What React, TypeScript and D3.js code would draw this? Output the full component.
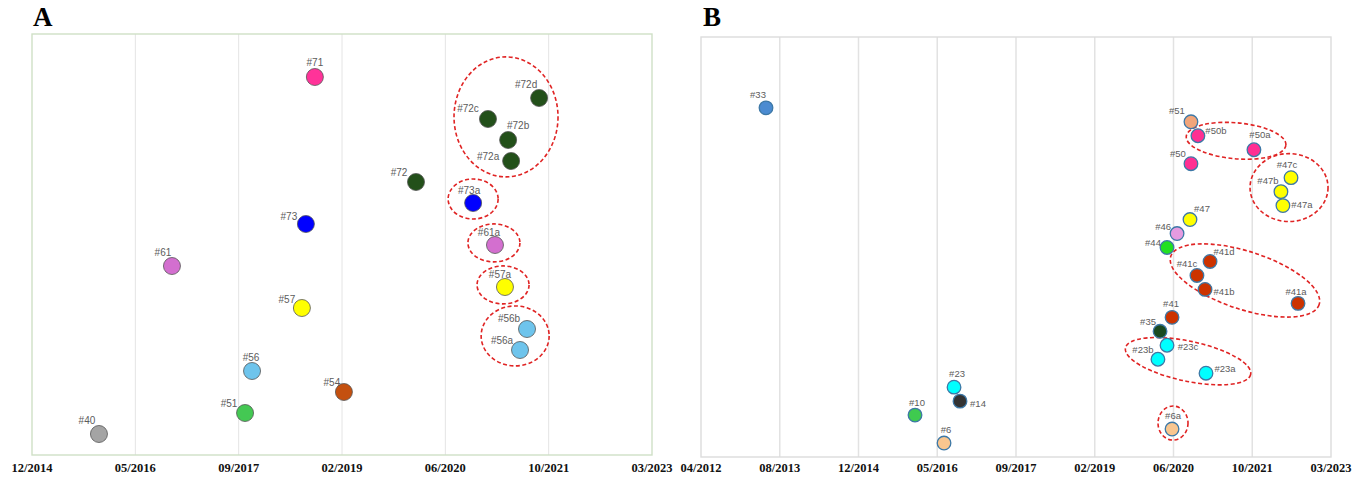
import React from "react";
import * as d3 from "d3";

// ---------- data ----------
const tickLabelsA = ["12/2014", "05/2016", "09/2017", "02/2019", "06/2020", "10/2021", "03/2023"];
const tickLabelsB = ["04/2012", "08/2013", "12/2014", "05/2016", "09/2017", "02/2019", "06/2020", "10/2021", "03/2023"];

// Panel A points, ordered bottom to top (vertical rank = index)
const idsA = ["#40", "#51", "#54", "#56", "#56a", "#56b", "#57", "#57a", "#61", "#61a", "#73", "#73a", "#72", "#72a", "#72b", "#72c", "#72d", "#71"];
const datesA = ["2015-11-01", "2017-10-03", "2019-02-10", "2017-11-07", "2021-05-19", "2021-06-21", "2018-07-15", "2021-03-09", "2016-10-21", "2021-01-21", "2018-08-04", "2020-10-10", "2020-01-15", "2021-04-07", "2021-03-24", "2020-12-19", "2021-08-17", "2018-09-18"];
const colorsA = ["#a4a4a4", "#44c853", "#c4500f", "#6ec4ec", "#6ec4ec", "#6ec4ec", "#ffff00", "#ffff00", "#d36fcf", "#d36fcf", "#0000ff", "#0000ff", "#23501a", "#23501a", "#23501a", "#23501a", "#23501a", "#ff3399"];

// Panel B points, ordered bottom to top
const idsB = ["#6", "#6a", "#10", "#14", "#23", "#23a", "#23b", "#23c", "#35", "#41", "#41a", "#41b", "#41c", "#41d", "#44", "#46", "#47", "#47a", "#47b", "#47c", "#50", "#50a", "#50b", "#51", "#33"];
const datesB = ["2016-06-12", "2020-05-23", "2015-12-07", "2016-09-19", "2016-08-13", "2020-12-19", "2020-02-26", "2020-04-22", "2020-03-10", "2020-05-23", "2022-07-28", "2020-12-13", "2020-10-24", "2021-01-13", "2020-04-22", "2020-06-23", "2020-09-11", "2022-04-20", "2022-04-07", "2022-06-12", "2020-09-17", "2021-10-12", "2020-10-30", "2020-09-17", "2013-05-08"];
const colorsB = ["#f9c68f", "#f9c68f", "#3fca4f", "#333333", "#00ffff", "#00ffff", "#00ffff", "#00ffff", "#1a4a20", "#cc3300", "#cc3300", "#cc3300", "#cc3300", "#cc3300", "#22e022", "#e59be0", "#ffff00", "#ffff00", "#ffff00", "#ffff00", "#ff2f92", "#ff2f92", "#ff2f92", "#f2a57a", "#4b8bd1"];

// label placement (offset of label centre from point centre)
const labelOffA: Record<string, [number, number]> = {
  "#40": [-12, -14], "#51": [-16, -10], "#54": [-12, -10], "#56": [-1, -14], "#56a": [-18, -10], "#56b": [-18, -11],
  "#57": [-15, -9], "#57a": [-5, -13], "#61": [-9, -14], "#61a": [-6, -13], "#73": [-17, -8], "#73a": [-4, -13],
  "#72": [-17, -10], "#72a": [-23, -5], "#72b": [10, -15], "#72c": [-20, -11], "#72d": [-13, -14], "#71": [0, -15],
};
const labelOffB: Record<string, [number, number]> = {
  "#6": [2, -14], "#6a": [1, -14], "#10": [2, -13], "#14": [18, 2], "#23": [3, -14], "#23a": [19, -5], "#23b": [-15, -10],
  "#23c": [21, 1], "#35": [-12, -10], "#41": [-1, -14], "#41a": [-2, -12], "#41b": [19, 2], "#41c": [-10, -12],
  "#41d": [14, -10], "#44": [-14, -5], "#46": [-14, -7], "#47": [12, -11], "#47a": [19, -1], "#47b": [-13, -11],
  "#47c": [-4, -13], "#50": [-13, -10], "#50a": [6, -15], "#50b": [18, -5], "#51": [-14, -11], "#33": [-8, -13],
};

// dashed group annotations: centre (date, rank), semi-axes px, rotation deg
const ellipsesA = [
  { date: "2021-03-14", level: 15.1, rx: 52, ry: 60, rot: 0 },
  { date: "2020-10-10", level: 11.19, rx: 25, ry: 20, rot: 0 },
  { date: "2021-01-16", level: 9.1, rx: 26, ry: 19, rot: 0 },
  { date: "2021-02-28", level: 7.1, rx: 26, ry: 19, rot: 0 },
  { date: "2021-04-26", level: 4.67, rx: 34, ry: 30, rot: 0 },
];
const ellipsesB = [
  { date: "2021-06-23", level: 21.64, rx: 50, ry: 18, rot: 5 },
  { date: "2022-05-30", level: 18.29, rx: 39, ry: 34, rot: 0 },
  { date: "2021-08-17", level: 11.64, rx: 78, ry: 29, rot: 18 },
  { date: "2020-08-30", level: 5.86, rx: 64, ry: 20, rot: 12 },
  { date: "2020-05-29", level: 1.43, rx: 15, ry: 17, rot: 0 },
];

// ---------- helpers ----------
const parseDay = d3.timeParse("%Y-%m-%d");
const parseTick = d3.timeParse("%m/%Y");

type PanelProps = {
  letter: string;
  left: number; right: number; top: number; bottom: number;
  ticks: string[];
  ids: string[]; dates: string[]; colors: string[];
  offs: Record<string, [number, number]>;
  ellipses: { date: string; level: number; rx: number; ry: number; rot: number }[];
  yMax: number;
  r: number;
  frame: string;
  grid: string;
  gridW: number;
  pointStroke: string;
  pointStrokeW: number;
  labelSize: number;
  reverseDraw: boolean;
  letterX: number;
};

function Panel(p: PanelProps) {
  const tickDates = p.ticks.map((t) => parseTick(t) as Date);
  const n = tickDates.length - 1;
  const x = d3.scaleTime()
    .domain(tickDates)
    .range(tickDates.map((_, i) => p.left + (i * (p.right - p.left)) / n));
  const y = d3.scaleLinear().domain([-1, p.yMax]).range([p.bottom, p.top + 1]);

  const pts = p.ids.map((id, i) => ({ id, x: x(parseDay(p.dates[i]) as Date), y: y(i), c: p.colors[i] }));
  const drawPts = p.reverseDraw ? [...pts].reverse() : pts;

  return (
    <g>
      <text x={p.letterX} y={26} fontFamily="Liberation Serif, serif" fontWeight="bold" fontSize={27} fill="#000">{p.letter}</text>
      {tickDates.slice(1, -1).map((d, i) => (
        <line key={"g" + i} x1={x(d)} x2={x(d)} y1={p.top} y2={p.bottom} stroke={p.grid} strokeWidth={p.gridW} />
      ))}
      <rect x={p.left} y={p.top} width={p.right - p.left} height={p.bottom - p.top} fill="none" stroke={p.frame} strokeWidth={1.4} />
      {tickDates.map((d, i) => (
        <text key={"t" + i} x={x(d)} y={472} textAnchor="middle" fontFamily="Liberation Serif, serif" fontWeight="bold" fontSize={12.5} fill="#111">
          {p.ticks[i]}
        </text>
      ))}
      {p.ellipses.map((e, i) => {
        const cx = x(parseDay(e.date) as Date);
        const cy = y(e.level);
        return (
          <ellipse key={"e" + i} cx={cx} cy={cy} rx={e.rx} ry={e.ry} transform={`rotate(${e.rot} ${cx} ${cy})`}
            fill="none" stroke="#e02424" strokeWidth={1.6} strokeDasharray="4 2.5" />
        );
      })}
      {drawPts.map((d) => (
        <circle key={"c" + d.id} cx={d.x} cy={d.y} r={p.r} fill={d.c} stroke={p.pointStroke} strokeWidth={p.pointStrokeW} />
      ))}
      {pts.map((d) => {
        const o = p.offs[d.id] || [0, -14];
        return (
          <text key={"l" + d.id} x={d.x + o[0]} y={d.y + o[1]} textAnchor="middle" dominantBaseline="central"
            fontFamily="Liberation Sans, Arial, sans-serif" fontSize={p.labelSize} fill="#5c5c5c">
            {d.id}
          </text>
        );
      })}
    </g>
  );
}

export default function App() {
  return (
    <svg width={1369} height={479} style={{ position: "absolute", left: 0, top: 0, background: "#fff" }}>
      <rect x={0} y={0} width={1369} height={479} fill="#fff" />
      <Panel letter="A" letterX={33} left={32} right={652} top={34} bottom={455} ticks={tickLabelsA}
        ids={idsA} dates={datesA} colors={colorsA} offs={labelOffA} ellipses={ellipsesA} yMax={19} r={8.5}
        frame="#cfe0c6" grid="#e4e4e4" gridW={1} pointStroke="#555" pointStrokeW={0.8} labelSize={10} reverseDraw={false} />
      <Panel letter="B" letterX={703} left={701} right={1331} top={37} bottom={457} ticks={tickLabelsB}
        ids={idsB} dates={datesB} colors={colorsB} offs={labelOffB} ellipses={ellipsesB} yMax={29} r={6.8}
        frame="#dcdcdc" grid="#e2e2e2" gridW={1.5} pointStroke="#3d78a6" pointStrokeW={1.3} labelSize={9.5} reverseDraw={true} />
    </svg>
  );
}
